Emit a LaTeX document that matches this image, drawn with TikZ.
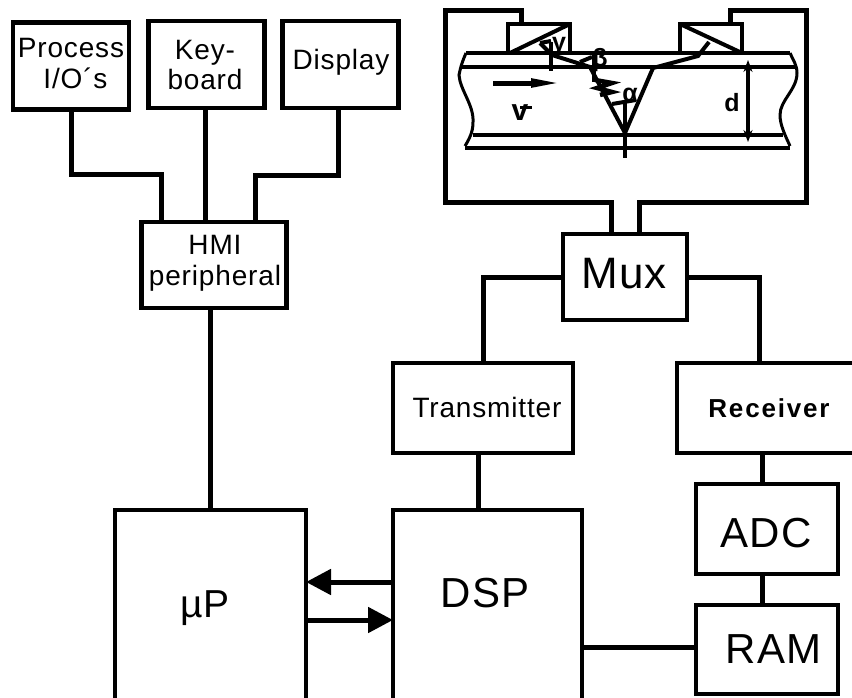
\documentclass[tikz,border=0pt]{standalone}
\usepackage{fontspec}
\setmainfont[LetterSpace=3]{Liberation Sans}
\usepackage{xcolor}
\usetikzlibrary{arrows.meta,positioning,calc}

\begin{document}
\begin{tikzpicture}[x=1pt,y=-1pt,
  blk/.style 2 args={draw,line width=4.5pt,minimum width=#1,minimum height=#2,inner sep=0pt,outer sep=0pt},
  lbl/.style={inner sep=0pt,anchor=base,align=center,font=\fontsize{28}{31}\selectfont},
  lblbig/.style={inner sep=0pt,anchor=base,font=\fontsize{42}{50}\selectfont},
  sym/.style={inner sep=0pt,font=\fontsize{25}{27}\selectfont\bfseries},
  wire/.style={line width=5pt},
  wall/.style={line width=4.5pt},
  ray/.style={line width=4pt},
  arr/.style={wire,-{Triangle[length=25pt,width=25pt]}}]
\useasboundingbox (0,0) rectangle (852,697);
% --- operator side ---
\node[blk={116pt}{87pt}] (proc) at (71,66) {};
\node[blk={116pt}{87pt}] (keyb) at (206.5,64.5) {};
\node[blk={116pt}{87pt}] (disp) at (340.5,64.5) {};
\node[blk={145pt}{86pt}] (hmi) at (214,265) {};
\node[lbl,anchor=center] (proctxt) at (71,63) {Process\\\hspace*{9pt}I/O´s};
\node[lbl,anchor=center] (keytxt) at (205,65) {Key-\\board};
\node[lbl] (disptxt) at (341,69) {Display};
\node[lbl,anchor=center] (hmitxt) at (215,263) {HMI\\peripheral};
\draw[wire] (proc.south) |- (161,174) -- (161,222);
\draw[wire] (205,108) -- (205,222);
\draw[wire] (338,108) |- (255,175) -- (255,222);
% --- processors ---
\node[blk={191pt}{260pt},line width=4pt] (up) at (210.5,640) {};
\node[blk={189pt}{260pt},line width=4pt] (dsp) at (487.5,640) {};
\node[lblbig] (uptxt) at (205,617) {\fontsize{39}{46}\selectfont µP};
\node[lblbig] (dsptxt) at (485,607) {DSP};
\draw[wire] (210,308) -- (210,510);
\draw[arr] (dsp.west |- 0,582) -- (up.east |- 0,582);
\draw[arr] (up.east |- 0,620) -- (dsp.west |- 0,620);
% --- front end ---
\node[blk={124pt}{86pt}] (mux) at (625,277) {};
\node[blk={180pt}{90pt}] (tx) at (483,408) {};
\node[blk={190pt}{90pt}] (rx) at (772,408) {};
\node[blk={142pt}{90pt}] (adc) at (767,529) {};
\node[blk={142pt}{89pt}] (ram) at (767,649.5) {};
\node[lblbig,font=\fontsize{44}{50}\selectfont] (muxtxt) at (624,288) {Mux};
\node[lbl] (txtxt) at (487,417) {Transmitter};
\node[lbl,font=\fontsize{26}{30}\selectfont\bfseries\addfontfeature{LetterSpace=7}] (rxtxt) at (769,417) {Receiver};
\node[lblbig] (adctxt) at (766,547) {ADC};
\node[lblbig] (ramtxt) at (773.5,663) {RAM};
\draw[wire] (mux.west) -| (483,363);
\draw[wire] (mux.east) -| (759,363);
\draw[wire] (478,453) -- (478,510);
\draw[wire] (762,453) -- (762,484);
\draw[wire] (762,574) -- (762,605);
\draw[wire] (582,647) -- (696,647);
% --- pipe section ---
\node[blk={62pt}{29pt},line width=4pt] (senl) at (539,38.5) {};
\node[blk={62pt}{29pt},line width=4pt] (senr) at (711,38.5) {};
\draw[wire] (611,234) |- (445,202) |- (521,10) -- (521,24);
\draw[wire] (639,234) |- (806,202) |- (730,10) -- (730,24);
\draw[wall] (466,53) -- (790,53);
\draw[wall] (461,67) -- (796,67);
\draw[wall] (473,135) -- (783,135);
\draw[wall] (465,148) -- (790,148);
\draw[line width=3pt] (466,53) .. controls (463,60) and (461,65) .. (459,75) .. controls (460,90) and (474,105) .. (473,122) .. controls (473,128) and (472,135) .. (465,146);
\draw[line width=3pt] (790,53) .. controls (793,60) and (797,65) .. (797,73) .. controls (797,90) and (780,100) .. (780,115) .. controls (780,125) and (785,135) .. (790,146);
\draw[ray] (510,53) -- (570,24);
\draw[ray] (680,24) -- (742,53);
\draw[ray] (540,43) -- (552,55) -- (590,67) -- (625,133) -- (653,68) -- (698,56) -- (709,42);
\draw[ray] (540,43) -- (551,41);
\draw[ray] (580,62) -- (592,57);
\draw[ray] (612,104) -- (636,100);
\draw[wall] (551,42) -- (551,71);
\draw[wall] (594,51) -- (594,82);
\draw[wall] (625,100) -- (625,158);
\draw[line width=4.5pt] (595,80) -- (612,83) -- (597,88) -- (612,92) -- (600,95);
\draw[line width=5pt,-{Triangle[length=33pt,width=8pt]}] (493,83) -- (564,83);
\draw[ray,{Stealth[length=12pt,width=9pt]}-{Stealth[length=12pt,width=9pt]}] (748,60) -- (748,142);
\node[sym] (gam) at (559,46) {γ};
\node[sym] (bet) at (600,60) {β};
\node[sym] (alp) at (630,95) {α};
\node[sym,font=\fontsize{30}{32}\selectfont\bfseries] (vel) at (520,113) {v};
\node[sym] (dia) at (732,103) {d};
\draw[line width=3pt] (520,107) -- (532,107);
\end{tikzpicture}
\end{document}
